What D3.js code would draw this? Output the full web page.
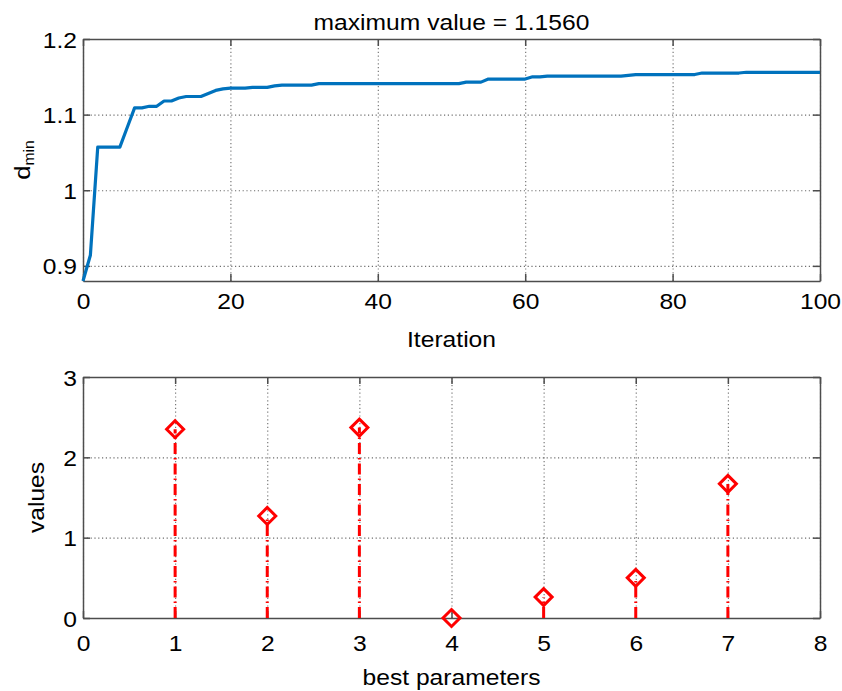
<!DOCTYPE html>
<html>
<head>
<meta charset="utf-8">
<script src="https://cdn.jsdelivr.net/npm/d3@7/dist/d3.min.js"></script>
<style>
  body { margin: 0; background: #fff; }
  text { font-family: "Liberation Sans", Arial, sans-serif; fill: #000; }
</style>
</head>
<body>
<svg id="chart" width="842" height="691"></svg>
<script>
// d_min per iteration (0..100)
const dminValues = [
  0.880, 0.914, 1.057, 1.057, 1.057, 1.057, 1.083, 1.109, 1.109, 1.111,
  1.111, 1.118, 1.118, 1.122, 1.124, 1.124, 1.124, 1.128, 1.132, 1.134,
  1.135, 1.135, 1.135, 1.136, 1.136, 1.136, 1.138, 1.139, 1.139, 1.139,
  1.139, 1.139, 1.141, 1.141, 1.141, 1.141, 1.141, 1.141, 1.141, 1.141,
  1.141, 1.141, 1.141, 1.141, 1.141, 1.141, 1.141, 1.141, 1.141, 1.141,
  1.141, 1.141, 1.143, 1.143, 1.143, 1.147, 1.147, 1.147, 1.147, 1.147,
  1.147, 1.150, 1.150, 1.151, 1.151, 1.151, 1.151, 1.151, 1.151, 1.151,
  1.151, 1.151, 1.151, 1.151, 1.152, 1.153, 1.153, 1.153, 1.153, 1.153,
  1.153, 1.153, 1.153, 1.153, 1.155, 1.155, 1.155, 1.155, 1.155, 1.155,
  1.156, 1.156, 1.156, 1.156, 1.156, 1.156, 1.156, 1.156, 1.156, 1.156,
  1.156,
];
const topXTicks = [0, 20, 40, 60, 80, 100];
const topYTicks = [0.9, 1, 1.1, 1.2];
const topTitle = 'maximum value = 1.1560';

const paramIndex = [1, 2, 3, 4, 5, 6, 7];
const paramValues = [2.35, 1.27, 2.37, 0, 0.26, 0.50, 1.67];
const bottomXTicks = [0, 1, 2, 3, 4, 5, 6, 7, 8];
const bottomYTicks = [0, 1, 2, 3];

const TEXT_STRETCH = 1.12;
const AXIS_COLOR = '#4d4d4d';
const GRID_COLOR = '#6e6e6e';

const svg = d3.select('#chart');

const addText = (parent, str, x, y, anchor, rotate) => {
  const rot = rotate ? ` rotate(${rotate})` : '';
  return parent.append('text')
    .attr('transform', `translate(${x},${y})${rot} scale(${TEXT_STRETCH},1)`)
    .attr('text-anchor', anchor)
    .style('font-size', '22px')
    .text(str);
};

// frame, grid, inward ticks on all four sides (matlab style)
const drawFrame = (g, scale, dims, xTicks, yTicks, xFmt, yFmt, labelGap) => {
  const {width, height} = dims;

  g.append('g').attr('transform', `translate(0,${height})`)
    .call(d3.axisBottom(scale.x).tickValues(xTicks).tickSize(-height).tickFormat(''))
    .call((a) => a.select('.domain').remove())
    .selectAll('line').attr('stroke', GRID_COLOR).attr('stroke-width', 1.1).attr('stroke-dasharray', '1.2,2.6');
  g.append('g')
    .call(d3.axisLeft(scale.y).tickValues(yTicks).tickSize(-width).tickFormat(''))
    .call((a) => a.select('.domain').remove())
    .selectAll('line').attr('stroke', GRID_COLOR).attr('stroke-width', 1.1).attr('stroke-dasharray', '1.2,2.6');

  const bottom = g.append('g').attr('class', 'frame').attr('transform', `translate(0,${height})`)
    .call(d3.axisBottom(scale.x).tickValues(xTicks).tickSizeInner(-7).tickSizeOuter(0).tickFormat(xFmt));
  bottom.selectAll('text')
    .attr('y', null).attr('dy', null)
    .attr('transform', `translate(0,${labelGap}) scale(${TEXT_STRETCH},1)`)
    .style('font-size', '22px').style('font-family', '"Liberation Sans", Arial, sans-serif').attr('fill', '#000');

  const left = g.append('g').attr('class', 'frame')
    .call(d3.axisLeft(scale.y).tickValues(yTicks).tickSizeInner(-7).tickSizeOuter(0).tickFormat(yFmt));
  left.selectAll('text')
    .attr('x', null).attr('dy', null)
    .attr('transform', `translate(-6,8) scale(${TEXT_STRETCH},1)`)
    .style('font-size', '22px').style('font-family', '"Liberation Sans", Arial, sans-serif').attr('fill', '#000');

  g.append('g').attr('class', 'frame')
    .call(d3.axisTop(scale.x).tickValues(xTicks).tickSizeInner(-7).tickSizeOuter(0).tickFormat(''));
  g.append('g').attr('class', 'frame').attr('transform', `translate(${width},0)`)
    .call(d3.axisRight(scale.y).tickValues(yTicks).tickSizeInner(-7).tickSizeOuter(0).tickFormat(''));

  g.selectAll('.frame .domain').attr('stroke', AXIS_COLOR).attr('stroke-width', 1.5);
  g.selectAll('.frame .tick line').attr('stroke', AXIS_COLOR).attr('stroke-width', 1.5);
};

// ---- top panel: d_min vs iteration
const drawConvergence = () => {
  const dims = {left: 83, top: 39, width: 737, height: 242};
  const g = svg.append('g').attr('transform', `translate(${dims.left},${dims.top})`);
  const scale = {
    x: d3.scaleLinear().domain([0, 100]).range([0, dims.width]),
    y: d3.scaleLinear().domain([0.88, 1.2]).range([dims.height, 0]),
  };

  drawFrame(g, scale, dims, topXTicks, topYTicks, d3.format('d'), (d) => String(d), 27.5);

  const line = d3.line()
    .x((d, i) => scale.x(i))
    .y((d) => scale.y(d));
  g.append('path')
    .datum(dminValues)
    .attr('d', line)
    .attr('fill', 'none')
    .attr('stroke', '#0072bd')
    .attr('stroke-width', 3.2)
    .attr('stroke-linejoin', 'round');

  addText(svg, topTitle, dims.left + dims.width / 2, 29.5, 'middle');
  addText(svg, 'Iteration', dims.left + dims.width / 2, 346.5, 'middle');

  const lbl = svg.append('text')
    .attr('transform', `translate(30,${dims.top + dims.height / 2}) rotate(-90) scale(${TEXT_STRETCH},1)`)
    .attr('text-anchor', 'middle')
    .style('font-size', '23px');
  lbl.append('tspan').text('d');
  lbl.append('tspan').attr('dy', 4).style('font-size', '14px').text('min');
};

// ---- bottom panel: stem plot of best parameters
const drawParameters = () => {
  const dims = {left: 83, top: 377, width: 737, height: 241};
  const g = svg.append('g').attr('transform', `translate(${dims.left},${dims.top})`);
  const scale = {
    x: d3.scaleLinear().domain([0, 8]).range([0, dims.width]),
    y: d3.scaleLinear().domain([0, 3]).range([dims.height, 0]),
  };

  drawFrame(g, scale, dims, bottomXTicks, bottomYTicks, d3.format('d'), d3.format('d'), 32.5);

  const stems = paramIndex.map((p, i) => ({x: scale.x(p), y: scale.y(paramValues[i]), base: scale.y(0)}));

  g.selectAll('line.stem')
    .data(stems.filter((s) => s.base - s.y > 1))
    .enter().append('line')
    .attr('class', 'stem')
    .attr('x1', (s) => s.x).attr('x2', (s) => s.x)
    .attr('y1', (s) => s.base).attr('y2', (s) => s.y)
    .attr('stroke', '#ff0000')
    .attr('stroke-width', 3)
    .attr('stroke-dasharray', '11,4,1.5,4');

  const r = 8.5;
  g.selectAll('path.marker')
    .data(stems)
    .enter().append('path')
    .attr('class', 'marker')
    .attr('d', (s) => `M${s.x},${s.y - r}L${s.x + r},${s.y}L${s.x},${s.y + r}L${s.x - r},${s.y}Z`)
    .attr('fill', 'none')
    .attr('stroke', '#ff0000')
    .attr('stroke-width', 3);

  addText(svg, 'best parameters', dims.left + dims.width / 2, 685, 'middle');
  addText(svg, 'values', 44, dims.top + dims.height / 2, 'middle', -90);
};

drawConvergence();
drawParameters();
</script>
</body>
</html>
